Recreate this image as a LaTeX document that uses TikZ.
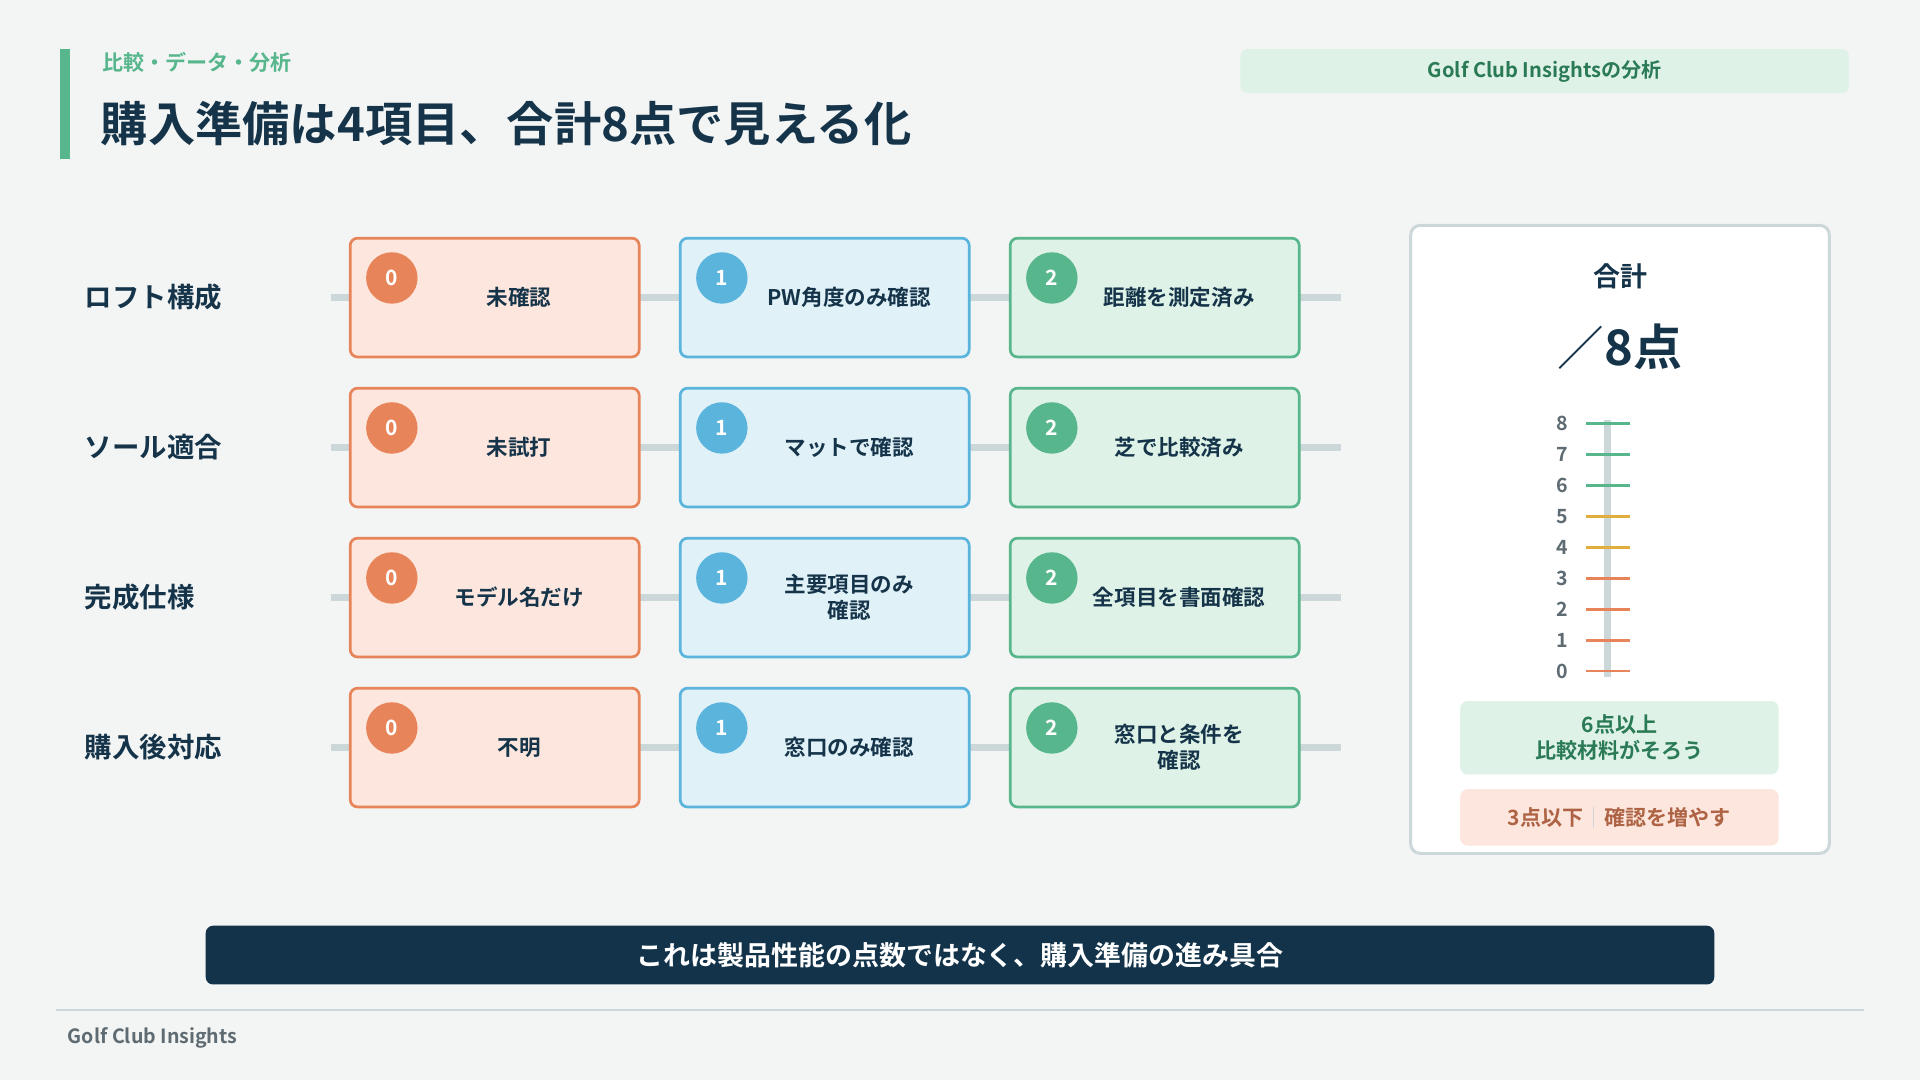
\documentclass[tikz,border=0pt]{standalone}
\usepackage{fontspec}
\setmainfont{Noto Sans CJK JP}
\newfontfamily\cjk{Noto Sans CJK JP}
\newfontfamily\cjkb{Noto Sans CJK JP Bold}
\definecolor{bg}{HTML}{F3F5F4}
\definecolor{ink}{HTML}{15344A}
\definecolor{navy}{HTML}{12334A}
\definecolor{gr}{HTML}{57B68C}
\definecolor{grf}{HTML}{DFF2E7}
\definecolor{dgr}{HTML}{2A7A55}
\definecolor{org}{HTML}{E8845A}
\definecolor{orgf}{HTML}{FCE6DD}
\definecolor{blu}{HTML}{5AB4DC}
\definecolor{bluf}{HTML}{E0F1F8}
\definecolor{yel}{HTML}{E0AE3C}
\definecolor{lin}{HTML}{CBD7D9}
\definecolor{gry}{HTML}{5E6B72}
\begin{document}
\begin{tikzpicture}[x=0.5pt,y=-0.5pt,
  txt/.style={font=\cjkb\fontsize{8.8pt}{10.5pt}\selectfont,text=ink,align=center},
  rowlab/.style={font=\cjkb\fontsize{11.2pt}{13pt}\selectfont,text=ink,anchor=west,inner sep=0pt},
  card/.style={draw=#1,fill=#1f,line width=1.1pt,rounded corners=3pt,minimum width=118pt,minimum height=48.5pt,inner sep=0pt},
  badge/.style={circle,fill=#1,minimum size=21pt,inner sep=0pt,text=white,font=\cjkb\fontsize{8.6pt}{10pt}\selectfont},
  conn/.style={draw=lin,line width=3pt},
  tick/.style={draw=#1,line width=1.2pt},
  num/.style={font=\cjkb\fontsize{8pt}{9pt}\selectfont,text=gry,anchor=east,inner sep=0pt}]
\useasboundingbox (0,0) rectangle (1568,882);
\fill[bg] (0,0) rectangle (1568,882);
\fill[gr] (49,40) rectangle (57,130);
\node[font=\cjkb\fontsize{8.6pt}{10pt}\selectfont,text=gr,anchor=west,inner sep=0pt] (sub) at (83,51) {比較・データ・分析};
\node[font=\cjkb\fontsize{19.3pt}{22pt}\selectfont,text=ink,anchor=west,inner sep=0pt] (title) at (82,101) {購入準備は4項目、合計8点で見える化};
\node[fill=grf,rounded corners=3pt,minimum width=248.5pt,minimum height=18pt,text=dgr,font=\cjkb\fontsize{8.2pt}{10pt}\selectfont] (tag) at (1261.5,58) {Golf Club Insightsの分析};
% rows
\foreach \r/\y/\lab/\a/\b/\c in {1/243/ロフト構成/未確認/PW角度のみ確認/距離を測定済み,
  2/365.5/ソール適合/未試打/マットで確認/芝で比較済み,
  3/488/完成仕様/モデル名だけ/{主要項目のみ\\確認}/全項目を書面確認,
  4/610.5/購入後対応/不明/窓口のみ確認/{窓口と条件を\\確認}}{
  \node[rowlab] (l\r) at (69,\y) {\lab};
  \coordinate (s\r) at (270,\y);
  \coordinate (e\r) at (1095,\y);
  \draw[conn] (s\r) -- (e\r);
  \node[card=org] (a\r) at (404,\y) {};
  \node[card=blu] (b\r) at (673.5,\y) {};
  \node[card=gr] (c\r) at (943,\y) {};
  \node[badge=org] (ba\r) at (320,\y-16) {0};
  \node[badge=blu] (bb\r) at (589.5,\y-16) {1};
  \node[badge=gr] (bc\r) at (859,\y-16) {2};
  \node[txt] (ta\r) at (424,\y) {\a};
  \node[txt] (tb\r) at (693.5,\y) {\b};
  \node[txt] (tc\r) at (963,\y) {\c};
}
% panel
\node[draw=lin,fill=white,line width=1.2pt,rounded corners=4pt,minimum width=171pt,minimum height=256.5pt] (panel) at (1323,440.5) {};
\node[font=\cjkb\fontsize{11pt}{13pt}\selectfont,text=ink] (gk) at (1323,226) {合計};
\node[text=ink,inner sep=0pt] (tot) at (1323,283) {{\cjk\fontsize{19pt}{22pt}\selectfont ／}{\cjkb\fontsize{20pt}{24pt}\selectfont 8点}};
\coordinate (rt) at (1313,343);
\coordinate (rb) at (1313,553);
\draw[draw=lin,line width=3pt] (rt) -- (rb);
\foreach \v/\c in {8/gr,7/gr,6/gr,5/yel,4/yel,3/org,2/org,1/org,0/org}{
  \coordinate (p\v) at (1295,{548-25.25*\v});
  \coordinate (q\v) at (1331,{548-25.25*\v});
  \draw[tick=\c] (p\v) -- (q\v);
  \node[num] (n\v) at (1281,{548-25.25*\v}) {\v};
}
\node[fill=grf,rounded corners=3pt,minimum width=130pt,minimum height=30pt,text=dgr,align=center,font=\cjkb\fontsize{8.6pt}{10.5pt}\selectfont] (good) at (1322.5,602.5) {6点以上\\比較材料がそろう};
\node[fill=orgf,rounded corners=3pt,minimum width=130pt,minimum height=23pt,text=org!75!black,font=\cjkb\fontsize{8.6pt}{10pt}\selectfont] (bad) at (1322.5,667.5) {3点以下{\color{lin}｜}確認を増やす};
% bottom
\node[fill=navy,rounded corners=3pt,minimum width=616pt,minimum height=24pt,text=white,font=\cjkb\fontsize{11pt}{12pt}\selectfont] (msg) at (784,780) {これは製品性能の点数ではなく、購入準備の進み具合};
\coordinate (f1) at (46,825);
\coordinate (f2) at (1522,825);
\draw[lin,line width=0.8pt] (f1) -- (f2);
\node[font=\cjkb\fontsize{8pt}{9pt}\selectfont,text=gry,anchor=west,inner sep=0pt] (foot) at (55,848) {Golf Club Insights};
\end{tikzpicture}
\end{document}
